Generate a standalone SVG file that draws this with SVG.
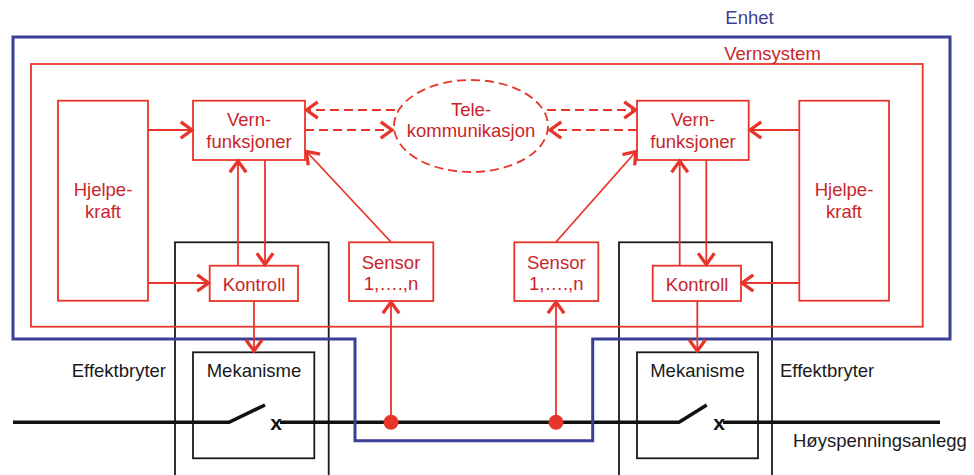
<svg xmlns="http://www.w3.org/2000/svg" width="974" height="475" viewBox="0 0 974 475">
<defs>
<style>
.r{fill:none;stroke:#e8352b;stroke-width:1.8}
.rd{fill:none;stroke:#e8352b;stroke-width:1.8;stroke-dasharray:9 5}
.k{fill:none;stroke:#1a1a1a;stroke-width:1.8}
.t{font-family:"Liberation Sans",Arial,sans-serif;font-size:18.5px;fill:#c9262c;text-anchor:middle}
.tk{font-family:"Liberation Sans",Arial,sans-serif;font-size:18.5px;fill:#1a1a1a}
.tx{font-family:"Liberation Sans",Arial,sans-serif;font-size:21px;font-weight:bold;fill:#111;text-anchor:middle}
.tb{font-family:"Liberation Sans",Arial,sans-serif;font-size:18.5px;fill:#3b3f96;text-anchor:middle}
</style>
<marker id="a" markerUnits="userSpaceOnUse" markerWidth="20" markerHeight="20" viewBox="-12 -8 14 16" refX="0" refY="0" orient="auto">
<path d="M-9,-6.5 L0,0 L-9,6.5" fill="none" stroke="#e8352b" stroke-width="2.6"/>
</marker>
</defs>
<rect width="974" height="475" fill="#fff"/>

<g id="effektbryter-left"><rect class="k" x="175" y="242.3" width="153.7" height="240"/><text class="tk" x="166" y="377" text-anchor="end">Effektbryter</text></g>
<g id="effektbryter-right"><rect class="k" x="619" y="242.3" width="153" height="240"/><text class="tk" x="780" y="377">Effektbryter</text></g>
<g id="mekanisme-left"><rect class="k" x="193" y="352.3" width="121.3" height="106"/><text class="tk" x="254" y="377" text-anchor="middle">Mekanisme</text></g>
<g id="mekanisme-right"><rect class="k" x="637" y="352.3" width="121" height="106"/><text class="tk" x="697.5" y="377" text-anchor="middle">Mekanisme</text></g>

<g id="hoyspenning">
<path d="M13,422.3 H229 L265,405 M280,422.3 H679 L706.7,405 M723,422.3 H940" fill="none" stroke="#111" stroke-width="3.6"/>
<text class="tx" x="276" y="429.5">x</text>
<text class="tx" x="719" y="429.5">x</text>
<text class="tk" x="793" y="447">Høyspenningsanlegg</text>
</g>

<g id="enhet">
<path d="M13,37 H950 V339 H592.7 V440.7 H355 V339 H13 Z" fill="none" stroke="#3b3f96" stroke-width="3"/>
<text class="tb" x="749.5" y="23.5">Enhet</text>
</g>
<g id="vernsystem">
<rect class="r" x="31" y="64" width="891.7" height="262.7"/>
<text class="t" x="772.5" y="59.5">Vernsystem</text>
</g>

<g id="hjelpekraft-left"><rect class="r" x="58" y="100.7" width="90" height="200"/><text class="t" x="103" y="196">Hjelpe-</text><text class="t" x="103" y="218">kraft</text></g>
<g id="hjelpekraft-right"><rect class="r" x="799.3" y="100.7" width="89.7" height="200"/><text class="t" x="844" y="196">Hjelpe-</text><text class="t" x="844" y="218">kraft</text></g>
<g id="vern-left"><rect class="r" x="193" y="100.7" width="112" height="59.3"/><text class="t" x="249" y="126">Vern-</text><text class="t" x="249" y="148">funksjoner</text></g>
<g id="vern-right"><rect class="r" x="637" y="100.7" width="111.7" height="59.3"/><text class="t" x="693" y="126">Vern-</text><text class="t" x="693" y="148">funksjoner</text></g>
<g id="telekommunikasjon"><ellipse class="rd" cx="471" cy="126" rx="77" ry="46"/><text class="t" x="471" y="115.5">Tele-</text><text class="t" x="471" y="137">kommunikasjon</text></g>
<g id="kontroll-left"><rect class="r" x="209.7" y="265.7" width="88.3" height="35.3"/><text class="t" x="254" y="291">Kontroll</text></g>
<g id="kontroll-right"><rect class="r" x="652.7" y="265.7" width="88.3" height="35.3"/><text class="t" x="697" y="291">Kontroll</text></g>
<g id="sensor-left"><rect class="r" x="349" y="242.3" width="84.3" height="58.7"/><text class="t" x="391" y="268.5">Sensor</text><text class="t" x="391" y="290">1,….,n</text></g>
<g id="sensor-right"><rect class="r" x="514.3" y="242.3" width="84" height="58.7"/><text class="t" x="556.3" y="268.5">Sensor</text><text class="t" x="556.3" y="290">1,….,n</text></g>

<g id="connectors">
<path class="r" d="M148,130 H192" marker-end="url(#a)"/>
<path class="r" d="M799.3,130 H750" marker-end="url(#a)"/>
<path class="r" d="M148,283 H208.5" marker-end="url(#a)"/>
<path class="r" d="M799.3,283 H742" marker-end="url(#a)"/>
<path class="r" d="M238,265.7 V161" marker-end="url(#a)"/>
<path class="r" d="M265,160 V264.5" marker-end="url(#a)"/>
<path class="r" d="M679.7,265.7 V161" marker-end="url(#a)"/>
<path class="r" d="M706.3,160 V264.5" marker-end="url(#a)"/>
<path class="r" d="M254,301 V351" marker-end="url(#a)"/>
<path class="r" d="M697.3,301 V351" marker-end="url(#a)"/>
<path class="r" d="M391,422.3 V302" marker-end="url(#a)"/>
<path class="r" d="M556,422.3 V302" marker-end="url(#a)"/>
<path class="r" d="M391,242 L306.5,151.5" marker-end="url(#a)"/>
<path class="r" d="M556,242 L636,151.5" marker-end="url(#a)"/>
<path class="rd" d="M395,110 H306.5" marker-end="url(#a)"/>
<path class="rd" d="M305,130 H392" marker-end="url(#a)"/>
<path class="rd" d="M547,110 H635.5" marker-end="url(#a)"/>
<path class="rd" d="M637,130 H550" marker-end="url(#a)"/>
<circle cx="391" cy="422.3" r="7.5" fill="#e8352b"/>
<circle cx="556" cy="422.3" r="7.5" fill="#e8352b"/>
</g>
</svg>
